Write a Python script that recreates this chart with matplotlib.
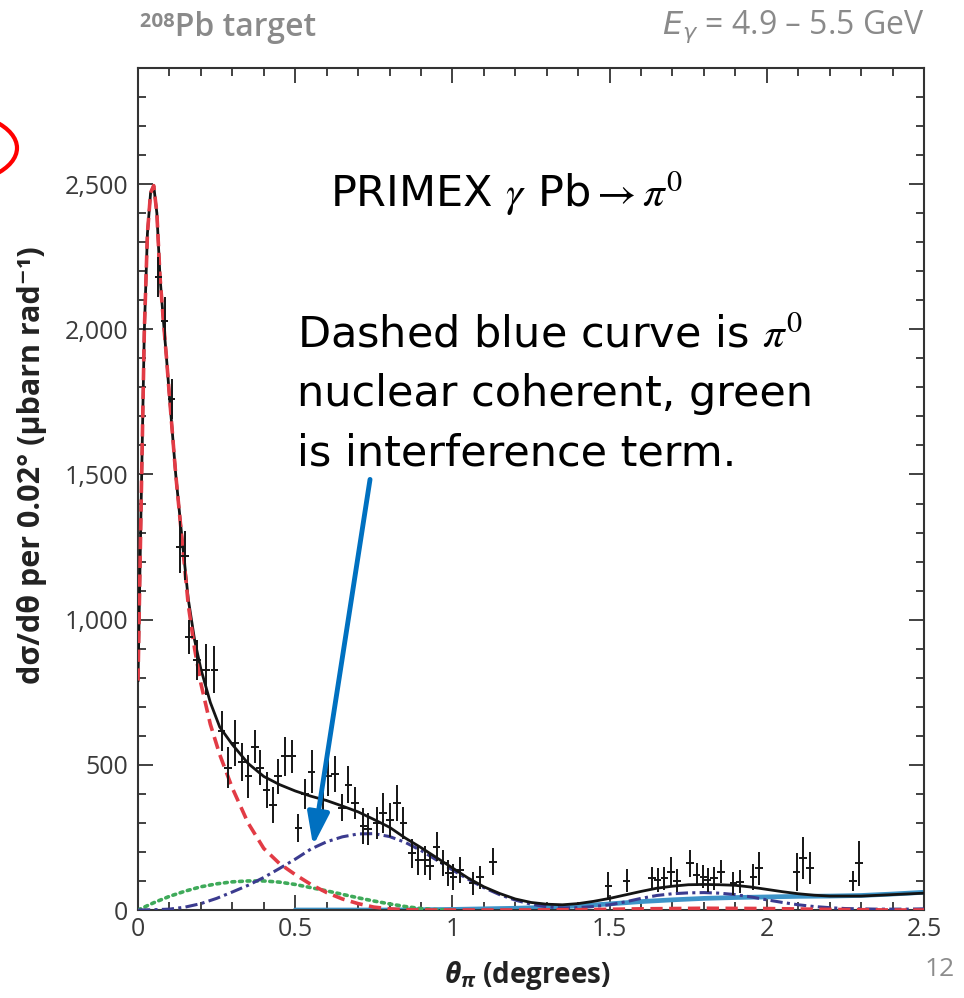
import matplotlib
matplotlib.use("Agg")
import matplotlib.pyplot as plt
from matplotlib.patches import Ellipse
from matplotlib.ticker import MultipleLocator, FixedLocator

# ---- fit curves (theta in degrees, cross section in microbarn/rad) ----
theta_total = [0.00, 0.01, 0.02, 0.03, 0.04, 0.05, 0.06, 0.07, 0.08, 0.09, 0.10,
               0.12, 0.14, 0.16, 0.18, 0.20, 0.23, 0.26, 0.30,
               0.35, 0.40, 0.45, 0.50, 0.55, 0.60, 0.65, 0.70, 0.75, 0.80,
               0.85, 0.90, 0.95, 1.00, 1.05, 1.10, 1.15, 1.20, 1.25, 1.30,
               1.35, 1.40, 1.45, 1.50, 1.55, 1.60, 1.65, 1.70, 1.75, 1.80,
               1.85, 1.90, 1.95, 2.00, 2.05, 2.10, 2.15, 2.20, 2.30, 2.40, 2.50]
total_fit = [790, 1400, 1990, 2330, 2470, 2495, 2400, 2180, 2040, 1910, 1770,
             1500, 1280, 1070, 930, 830, 715, 630, 570,
             505, 460, 432, 410, 392, 377, 358, 338, 312, 285,
             248, 215, 180, 145, 110, 80, 57, 38, 26, 20,
             18, 22, 30, 40, 52, 64, 75, 82, 87, 88,
             87, 85, 79, 71, 63, 56, 51, 48, 48, 53, 58]

theta_primakoff = [0.00, 0.01, 0.02, 0.03, 0.04, 0.05, 0.06, 0.07, 0.08, 0.09, 0.10,
                   0.12, 0.14, 0.16, 0.18, 0.20, 0.23, 0.26, 0.30, 0.35, 0.40,
                   0.45, 0.50, 0.55, 0.60, 0.65, 0.70, 0.75, 0.80, 0.85, 0.90,
                   1.00, 1.20, 1.40, 1.60, 1.80, 2.00, 2.20, 2.40, 2.50]
primakoff = [790, 1400, 1990, 2330, 2470, 2495, 2400, 2180, 2040, 1910, 1770,
             1500, 1275, 1050, 900, 780, 640, 535, 420, 300, 212,
             160, 122, 88, 60, 38, 22, 10, 4, 1, 0,
             0, 0, 1, 4, 6, 5, 2, 0, 0]

theta_nuclear = [0.00, 0.05, 0.10, 0.15, 0.20, 0.25, 0.30, 0.35, 0.40, 0.45,
                 0.50, 0.55, 0.60, 0.65, 0.70, 0.75, 0.80, 0.85, 0.90, 0.95,
                 1.00, 1.05, 1.10, 1.15, 1.20, 1.25, 1.30, 1.35, 1.40, 1.45,
                 1.50, 1.55, 1.60, 1.65, 1.70, 1.75, 1.80, 1.85, 1.90, 1.95,
                 2.00, 2.05, 2.10, 2.15, 2.20, 2.25, 2.30, 2.35, 2.40, 2.45, 2.50]
nuclear_coherent = [0, 1, 3, 10, 22, 40, 62, 85, 112, 143,
                    175, 210, 235, 252, 262, 263, 253, 233, 205, 172,
                    138, 106, 77, 53, 34, 20, 11, 7, 8, 12,
                    18, 28, 40, 50, 56, 59, 60, 58, 53, 45,
                    35, 26, 18, 12, 8, 5, 4, 3, 3, 3, 4]

theta_interf = [0.00, 0.05, 0.10, 0.15, 0.20, 0.25, 0.30, 0.35, 0.40, 0.45,
                0.50, 0.55, 0.60, 0.65, 0.70, 0.75, 0.80, 0.85, 0.90, 0.95, 1.00]
interference = [0, 25, 47, 65, 80, 90, 97, 100, 100, 96,
                88, 77, 66, 54, 42, 31, 21, 12, 5, 1, 0]

theta_incoh = [0.50, 0.60, 0.70, 0.80, 0.90, 1.00, 1.10, 1.20, 1.30, 1.40, 1.50,
               1.60, 1.70, 1.80, 1.90, 2.00, 2.10, 2.20, 2.30, 2.40, 2.50]
incoherent = [0, 0, 0, 0, 1, 2, 4, 6, 9, 14, 21,
              29, 35, 40, 43, 45, 47, 48, 50, 55, 61]

# ---- measured points ----
data_theta = [0.065, 0.085, 0.107, 0.134, 0.150, 0.163, 0.187, 0.217, 0.243, 0.266,
              0.287, 0.309, 0.330, 0.351, 0.372, 0.388, 0.409, 0.430, 0.446, 0.467,
              0.489, 0.510, 0.531, 0.552, 0.589, 0.605, 0.627, 0.648, 0.669, 0.690,
              0.717, 0.732, 0.759, 0.780, 0.802, 0.823, 0.844, 0.871, 0.892, 0.913,
              0.929, 0.950, 0.971, 0.987, 1.003, 1.024, 1.066, 1.088, 1.130,
              1.496, 1.554, 1.634, 1.653, 1.674, 1.695, 1.715, 1.756, 1.777, 1.798,
              1.812, 1.832, 1.854, 1.894, 1.915, 1.957, 1.976, 2.095, 2.116, 2.137,
              2.275, 2.293]
data_xsec = [2180, 2030, 1760, 1250, 1220, 940, 862, 828, 828, 615,
             490, 575, 510, 460, 563, 490, 414, 362, 460, 529,
             529, 282, 400, 477, 379, 460, 468, 353, 432, 368,
             290, 280, 300, 335, 310, 368, 300, 195, 172, 172,
             150, 218, 161, 126, 115, 138, 92, 112, 167,
             84, 101, 109, 103, 109, 132, 101, 161, 121, 115,
             103, 109, 132, 92, 98, 115, 144, 132, 180, 144,
             101, 161]
data_err = [70, 80, 70, 90, 85, 60, 69, 89, 80, 69,
            70, 78, 65, 75, 57, 60, 63, 63, 60, 66,
            57, 49, 52, 75, 55, 69, 63, 46, 63, 55,
            63, 55, 55, 69, 60, 63, 55, 50, 50, 50,
            48, 50, 45, 45, 45, 45, 40, 40, 45,
            46, 40, 40, 40, 40, 49, 40, 46, 40, 40,
            40, 40, 40, 40, 40, 45, 57, 66, 72, 55,
            35, 78]
bin_half = 0.012

x_ticks = [0, 0.5, 1, 1.5, 2, 2.5]
x_tick_labels = ["0", "0.5", "1", "1.5", "2", "2.5"]
y_ticks = [0, 500, 1000, 1500, 2000, 2500]
y_tick_labels = ["0", "500", "1,000", "1,500", "2,000", "2,500"]

plt.rcParams["mathtext.fontset"] = "custom"
plt.rcParams["mathtext.it"] = "Open Sans:italic:bold"
plt.rcParams["mathtext.rm"] = "Open Sans:bold"

W, H = 964, 998
fig = plt.figure(figsize=(W / 100, H / 100), dpi=100)
fig.patch.set_facecolor("white")

ax = fig.add_axes([138 / W, 88 / H, 786 / W, 842 / H])
ax.set_xlim(0, 2.5)
ax.set_ylim(0, 2900)

ink = "#333333"
for s in ax.spines.values():
    s.set_color(ink)
    s.set_linewidth(1.5)

ax.xaxis.set_major_locator(FixedLocator(x_ticks))
ax.xaxis.set_minor_locator(MultipleLocator(0.1))
ax.yaxis.set_major_locator(FixedLocator(y_ticks))
ax.yaxis.set_minor_locator(MultipleLocator(100))
ax.set_xticklabels(x_tick_labels)
ax.set_yticklabels(y_tick_labels)
ax.tick_params(which="both", direction="in", top=True, right=True,
               color=ink, width=1.3)
ax.tick_params(which="major", length=11)
ax.tick_params(which="minor", length=5.5)
ax.tick_params(axis="x", which="major", pad=5, labelsize=18, labelcolor="#3a3a3a")
ax.tick_params(axis="y", which="major", pad=7, labelsize=18, labelcolor="#3a3a3a")
for lab in ax.get_xticklabels() + ax.get_yticklabels():
    lab.set_family(["Open Sans", "DejaVu Sans"])

# fit components
ax.plot(theta_incoh, incoherent, color="#3e94c8", lw=3.4, zorder=2,
        solid_capstyle="round")
ax.plot(theta_interf, interference, color="#3faa5a", lw=2.6, zorder=3,
        linestyle=(0, (0.8, 1.3)), dash_capstyle="round")
ax.plot(theta_nuclear, nuclear_coherent, color="#3b3b8f", lw=2.2, zorder=3,
        linestyle=(0, (4.0, 1.4, 1.0, 1.4)))
ax.plot(theta_total, total_fit, color="#141414", lw=2.0, zorder=4)
ax.plot(theta_primakoff, primakoff, color="#e23b45", lw=2.6, zorder=5,
        linestyle=(0, (3.4, 1.8)))

# measured cross sections
ax.errorbar(data_theta, data_xsec, yerr=data_err, xerr=bin_half, fmt="none",
            ecolor="#151515", elinewidth=1.4, capsize=0, zorder=6)

# ---- headers and labels ----
grey = "#8a8a8a"
fig.text(140 / W, 1 - 27 / H, "²⁰⁸Pb target", ha="left", va="center",
         fontsize=23, color=grey, weight="semibold",
         family=["Open Sans", "DejaVu Sans"])
fig.text(925 / W, 1 - 27 / H, r"$E_\gamma$ = 4.9 – 5.5 GeV", ha="right",
         va="center", fontsize=23, color=grey,
         family=["Open Sans", "DejaVu Sans"], math_fontfamily="dejavusans")

fig.text(32 / W, 1 - 465 / H, "dσ/dθ per 0.02° (μbarn rad⁻¹)", rotation=90,
         ha="center", va="center", fontsize=22, weight="bold", color="#222222",
         family=["Open Sans", "DejaVu Sans"])
fig.text(527 / W, 1 - 975 / H, r"$\theta_\pi$ (degrees)", ha="center",
         va="center", fontsize=20, weight="bold", color="#222222",
         family=["Open Sans", "DejaVu Sans"])
fig.text(940 / W, 1 - 970 / H, "12", ha="center", va="center", fontsize=19,
         color="#8c8c8c", family=["Open Sans", "DejaVu Sans"])

# ---- annotations ----
note_font = dict(family=["DejaVu Sans"], color="black", fontsize=31,
                 math_fontfamily="stix")
fig.text(330 / W, 1 - 207 / H, r"PRIMEX $\gamma$ Pb$\rightarrow\pi^0$",
         ha="left", va="baseline", **note_font)
fig.text(297 / W, 1 - 347 / H, r"Dashed blue curve is $\pi^0$",
         ha="left", va="baseline", **note_font)
fig.text(297 / W, 1 - 406 / H, "nuclear coherent, green",
         ha="left", va="baseline", **note_font)
fig.text(297 / W, 1 - 466 / H, "is interference term.",
         ha="left", va="baseline", **note_font)

ax.annotate("", xy=(0.557, 221), xytext=(0.738, 1483),
            arrowprops=dict(arrowstyle="-|>,head_length=0.9,head_width=0.3",
                            color="#0070c0", lw=3.5, mutation_scale=22,
                            shrinkA=0, shrinkB=0),
            zorder=8, annotation_clip=False)

ring = Ellipse((-60 / W, 1 - 148 / H), 154 / W, 76 / H, transform=fig.transFigure,
               fill=False, edgecolor="#ff0000", lw=3.0, clip_on=False)
fig.add_artist(ring)

fig.savefig("out.png", dpi=100, facecolor="white")
